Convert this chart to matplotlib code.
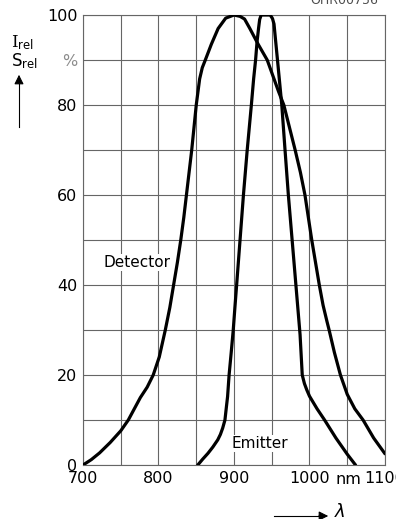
import matplotlib.pyplot as plt
import numpy as np

# relative spectral sensitivity of the detector (nm, %)
det_nm = [700, 711, 722, 736, 750, 760, 776, 785, 793, 801, 809, 815, 820,
          825, 829.5, 833.5, 837, 840.5, 844, 847, 850, 854.5, 858, 862, 870,
          879, 889, 900, 908, 914, 921, 932, 944, 953, 959, 966, 973.5, 981,
          988, 994, 998.5, 1003, 1008, 1013, 1018, 1023, 1026, 1033, 1041,
          1050, 1060, 1071, 1085, 1100]
det_pct = [0, 1.2, 2.7, 5.0, 7.6, 10, 15, 17.3, 20, 24, 30, 35, 40,
           45, 50, 55, 60, 65, 70, 75, 80, 85.8, 88.3, 90, 93.5,
           97, 99.3, 100, 99.7, 99.1, 97, 93.5, 90, 85.8, 83, 80, 75, 70,
           65, 60, 55, 50, 45, 40, 35.5, 32, 30, 25, 20,
           15.7, 12.5, 10, 6, 2.5]

# relative spectral emission of the emitter (nm, %)
emi_nm = [852, 858.5, 865.5, 872, 878.5, 882, 885, 888, 890, 891.5, 893.5,
          896.3, 899, 901.2, 903.5, 908, 912.5, 917.5, 923, 926, 928.6, 930.5,
          932.5, 934, 936, 942, 948, 951, 953, 955, 957.6, 960, 963.3, 967.6,
          972, 977, 982, 985, 987.5, 990.4, 993.3, 996.4, 1000, 1010, 1020,
          1035, 1050, 1061]
emi_pct = [0, 1.3, 2.6, 4, 5.6, 6.8, 8.2, 10, 13, 15.2, 20,
           25, 30, 35, 40, 50, 60, 70, 80, 85.8, 90, 94,
           97, 99, 100, 100, 100, 99.2, 98, 94.5, 90, 85.8, 80, 70,
           60, 50, 40, 34, 29, 20, 18.1, 16.7, 15.3, 12.5, 10,
           6, 2.4, 0]

x_ticks = np.arange(700, 1101, 50)
x_labels = ['700', '', '800', '', '900', '', '1000', '', '1100']
y_ticks = np.arange(0, 101, 10)
y_labels = ['0', '', '20', '', '40', '', '60', '', '80', '%', '100']

plt.rcParams['font.family'] = 'DejaVu Sans'

fig = plt.figure(figsize=(3.96, 5.19), dpi=100)
ax = fig.add_axes([0.2096, 0.104, 0.7626, 0.8671])

ax.plot(det_nm, det_pct, color='black', lw=2.3, solid_capstyle='round',
        solid_joinstyle='round', zorder=3)
ax.plot(emi_nm, emi_pct, color='black', lw=2.3, solid_capstyle='round',
        solid_joinstyle='round', zorder=3)

ax.set_xlim(700, 1100)
ax.set_ylim(0, 100)
ax.set_xticks(x_ticks)
ax.set_xticklabels(x_labels)
ax.set_yticks(y_ticks)
ax.set_yticklabels(y_labels)
ax.tick_params(length=0, labelsize=11.5, pad=4)
ax.get_yticklabels()[9].set_color('0.55')
ax.grid(True, color='0.4', lw=0.8)
for s in ax.spines.values():
    s.set_color('0.4')
    s.set_linewidth(0.8)

ax.text(1052, -1.5, 'nm', ha='center', va='top', fontsize=11.5)

ax.text(727, 45, 'Detector', fontsize=11, va='center', ha='left', zorder=2,
        bbox=dict(facecolor='white', edgecolor='none', pad=1))
ax.text(897, 4.8, 'Emitter', fontsize=11, va='center', ha='left', zorder=2,
        bbox=dict(facecolor='white', edgecolor='none', pad=1))

# y caption: I_rel / S_rel with upward arrow
fig.text(11 / 396, 1 - 52 / 519,
         '$\\mathrm{I}_{\\mathsf{rel}}$\n$\\mathsf{S}_{\\mathsf{rel}}$',
         math_fontfamily='dejavuserif', fontsize=12, linespacing=0.95,
         ha='left', va='center')
fig.add_artist(plt.Line2D([19 / 396, 19 / 396], [1 - 127 / 519, 1 - 84 / 519],
                          color='black', lw=0.8))
ax.annotate('', xy=(19 / 396, 1 - 72 / 519), xytext=(19 / 396, 1 - 86 / 519),
            xycoords='figure fraction',
            arrowprops=dict(arrowstyle='-|>', color='black', lw=0.8,
                            mutation_scale=14))

# x caption arrow with lambda
fig.add_artist(plt.Line2D([274 / 396, 320 / 396], [1 - 516 / 519, 1 - 516 / 519],
                          color='black', lw=0.8))
ax.annotate('', xy=(331 / 396, 1 - 516 / 519), xytext=(316 / 396, 1 - 516 / 519),
            xycoords='figure fraction',
            arrowprops=dict(arrowstyle='-|>', color='black', lw=0.8,
                            mutation_scale=14))
fig.text(334 / 396, 1 - 521 / 519, r'$\lambda$', fontsize=13, ha='left',
         va='bottom')

fig.text(378 / 396, 1 - 7 / 519, 'OHR00756', fontsize=9, color='0.3',
         ha='right', va='bottom')

fig.savefig('out.png', dpi=100)
